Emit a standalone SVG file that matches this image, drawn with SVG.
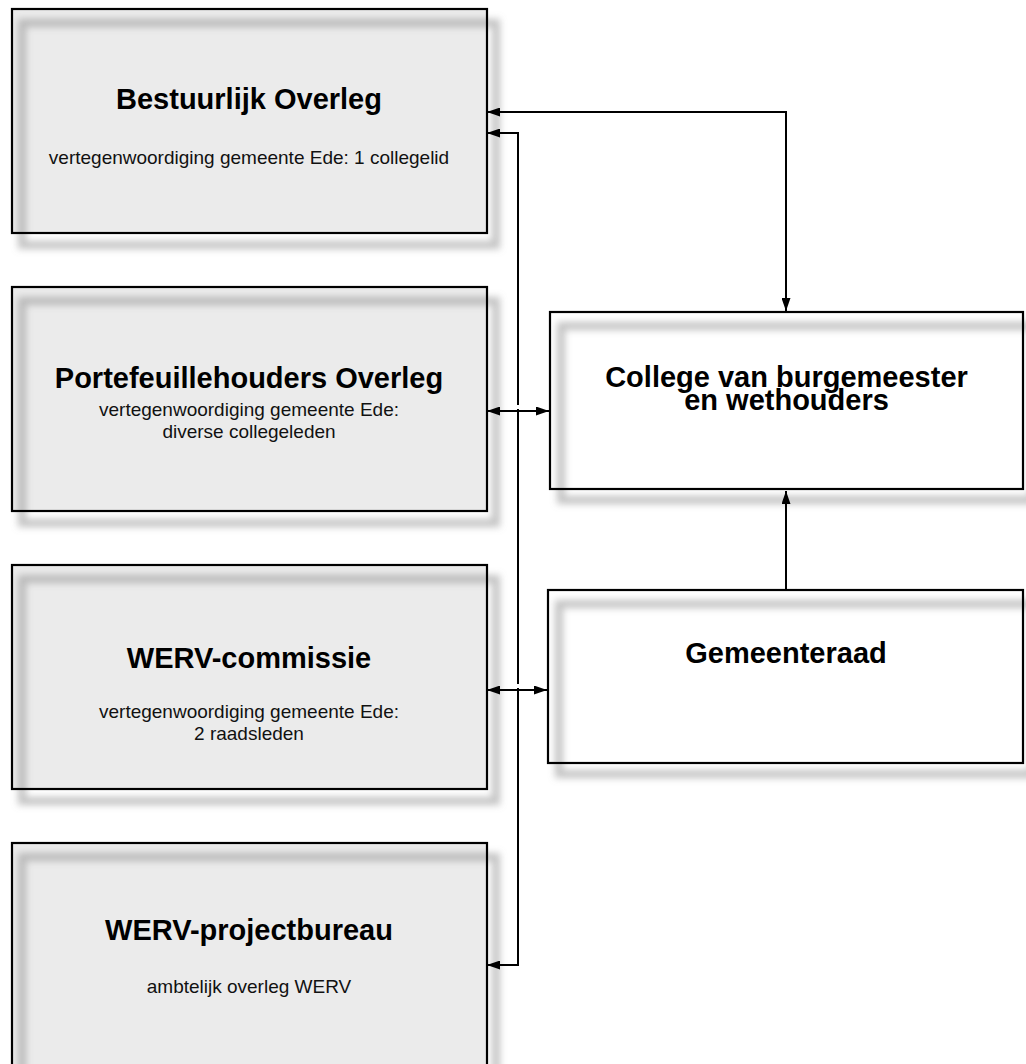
<svg xmlns="http://www.w3.org/2000/svg" width="1026" height="1064" viewBox="0 0 1026 1064">
<style>
.fill-g{fill:#ebebeb}
.fill-w{fill:#ffffff}
.frame{fill:none;stroke:#8a8a8a;stroke-opacity:0.5;stroke-width:8;filter:url(#blur)}
.edge{fill:none;stroke:#000;stroke-width:2.2}
.t{font-family:"Liberation Sans",Arial,Helvetica,sans-serif;font-weight:bold;font-size:29px;fill:#000;text-anchor:middle}
.s{font-family:"Liberation Sans",Arial,Helvetica,sans-serif;font-size:19px;fill:#111;text-anchor:middle}
.c{fill:none;stroke:#000;stroke-width:2}
</style>
<defs>
<filter id="blur" x="-10%" y="-10%" width="120%" height="120%"><feGaussianBlur stdDeviation="3.5"/></filter>
<marker id="ah" viewBox="0 0 13 9" refX="13" refY="4.5" markerWidth="13" markerHeight="9" markerUnits="userSpaceOnUse" orient="auto-start-reverse"><path d="M0,0 L13,4.5 L0,9 Z" fill="#000"/></marker>
</defs>

<g id="node-bestuurlijk">
<rect class="fill-g" x="12" y="9" width="475" height="224"/>
<rect class="frame" x="22" y="23" width="474" height="222"/>
<rect class="edge" x="12" y="9" width="475" height="224"/>
<text class="t" x="249" y="109">Bestuurlijk Overleg</text>
<text class="s" x="249" y="164">vertegenwoordiging gemeente Ede: 1 collegelid</text>
</g>

<g id="node-portefeuille">
<rect class="fill-g" x="12" y="287" width="475" height="224"/>
<rect class="frame" x="22" y="301" width="474" height="222"/>
<rect class="edge" x="12" y="287" width="475" height="224"/>
<text class="t" x="249" y="388">Portefeuillehouders Overleg</text>
<text class="s" x="249" y="416">vertegenwoordiging gemeente Ede:</text>
<text class="s" x="249" y="438">diverse collegeleden</text>
</g>

<g id="node-werv-commissie">
<rect class="fill-g" x="12" y="565" width="475" height="224"/>
<rect class="frame" x="22" y="579" width="474" height="222"/>
<rect class="edge" x="12" y="565" width="475" height="224"/>
<text class="t" x="249" y="668">WERV-commissie</text>
<text class="s" x="249" y="718">vertegenwoordiging gemeente Ede:</text>
<text class="s" x="249" y="740">2 raadsleden</text>
</g>

<g id="node-werv-projectbureau">
<rect class="fill-g" x="12" y="843" width="475" height="224"/>
<rect class="frame" x="22" y="857" width="474" height="222"/>
<rect class="edge" x="12" y="843" width="475" height="224"/>
<text class="t" x="249" y="940">WERV-projectbureau</text>
<text class="s" x="249" y="993">ambtelijk overleg WERV</text>
</g>

<g id="node-college">
<rect class="fill-w" x="550" y="312" width="473" height="177"/>
<rect class="frame" x="561" y="326" width="472" height="174"/>
<rect class="edge" x="550" y="312" width="473" height="177"/>
<text class="t"><tspan x="786.5" y="387">College van burgemeester</tspan><tspan x="786.5" y="410">en wethouders</tspan></text>
</g>

<g id="node-gemeenteraad">
<rect class="fill-w" x="548" y="590" width="475" height="173"/>
<rect class="frame" x="559" y="604" width="474" height="170"/>
<rect class="edge" x="548" y="590" width="475" height="173"/>
<text class="t" x="786" y="663">Gemeenteraad</text>
</g>

<g id="connectors">
<path class="c" d="M487,112 L786,112 L786,311" marker-start="url(#ah)" marker-end="url(#ah)"/>
<path class="c" d="M487,133 L518,133 L518,965 L487,965" marker-start="url(#ah)" marker-end="url(#ah)"/>
<rect x="515" y="405" width="6" height="4" fill="#fff"/>
<rect x="515" y="684" width="6" height="4" fill="#fff"/>
<path class="c" d="M487,411 L549,411" marker-start="url(#ah)" marker-end="url(#ah)"/>
<path class="c" d="M487,690 L547,690" marker-start="url(#ah)" marker-end="url(#ah)"/>
<path class="c" d="M786,590 L786,491" marker-end="url(#ah)"/>
</g>
</svg>
